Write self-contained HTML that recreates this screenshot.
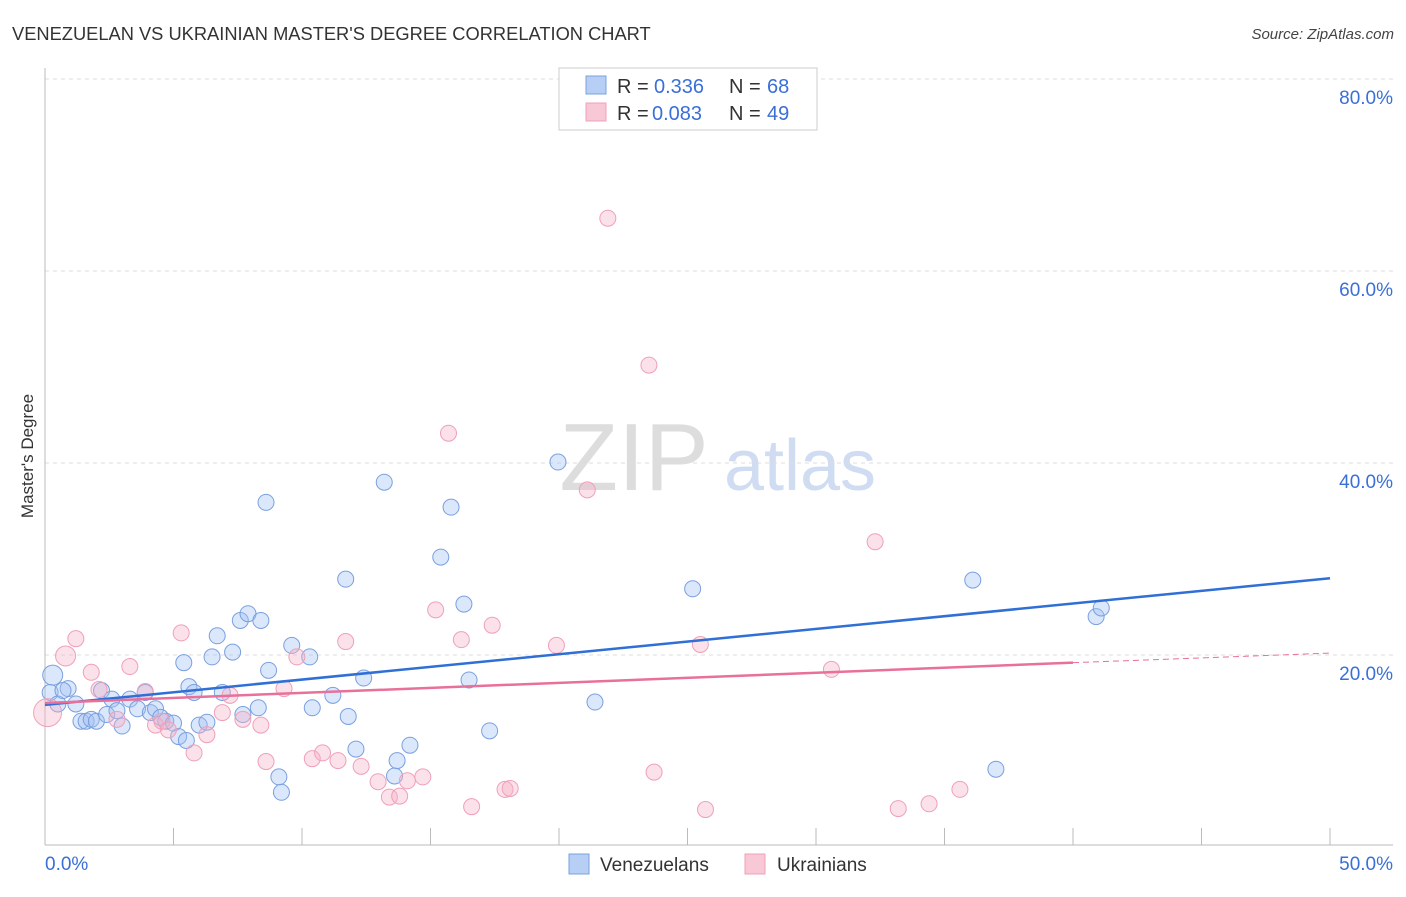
<!DOCTYPE html>
<html><head><meta charset="utf-8"><style>
body{margin:0;background:#fff;font-family:"Liberation Sans",sans-serif;}
svg text{font-family:"Liberation Sans",sans-serif;}
</style></head><body>
<svg id="chart" width="1406" height="892" xmlns="http://www.w3.org/2000/svg">
<text x="12" y="40" font-size="18.3" fill="#333">VENEZUELAN VS UKRAINIAN MASTER'S DEGREE CORRELATION CHART</text>
<text x="1394" y="39" font-size="15" fill="#444" text-anchor="end" font-style="italic">Source: ZipAtlas.com</text>
<g>
<text x="634" y="490" font-size="96" fill="#ddd" text-anchor="middle" font-family="Liberation Serif, serif">ZIP</text>
<text x="800" y="490" font-size="72" fill="#cfdcf2" text-anchor="middle">atlas</text>
</g>
<g id="grid"></g>
<g id="axes"></g>
<g id="points"></g>
<g id="lines"></g>
<text transform="translate(33,456) rotate(-90)" font-size="17" fill="#333" text-anchor="middle">Master's Degree</text>
<g>
<rect x="559" y="68" width="258" height="62" fill="#fff" stroke="#ccc"/>
<rect x="586" y="76" width="20" height="18" fill="#b8cff5" stroke="#7aa0e0"/>
<rect x="586" y="103" width="20" height="18" fill="#f8c8d6" stroke="#f0a0b8"/>
<text x="617" y="93" font-size="20" fill="#333">R = </text><text x="654" y="93" font-size="20" fill="#3a6fd8">0.336</text>
<text x="729" y="93" font-size="20" fill="#333">N = </text><text x="767" y="93" font-size="20" fill="#3a6fd8">68</text>
<text x="617" y="120" font-size="20" fill="#333">R = </text><text x="652" y="120" font-size="20" fill="#3a6fd8">0.083</text>
<text x="729" y="120" font-size="20" fill="#333">N = </text><text x="767" y="120" font-size="20" fill="#3a6fd8">49</text>
</g>
<g>
<rect x="569" y="854" width="20" height="20" fill="#b8cff5" stroke="#7aa0e0"/>
<text x="600" y="871" font-size="19" fill="#333">Venezuelans</text>
<rect x="745" y="854" width="20" height="20" fill="#f8c8d6" stroke="#f0a0b8"/>
<text x="777" y="871" font-size="19" fill="#333">Ukrainians</text>
</g>
</svg>
<script>
const yTicks=[20,40,60,80];
const yTickLabels=["20.0%","40.0%","60.0%","80.0%"];
const xTicks=[0,5,10,15,20,25,30,35,40,45,50];
const xEndLabels=["0.0%","50.0%"];
const venX=[0.3,0.2,0.5,0.9,0.7,1.2,1.4,1.6,1.8,2.0,2.2,2.4,2.6,2.8,3.0,3.3,3.6,3.9,4.1,4.3,4.5,4.7,5.0,5.2,5.4,5.5,5.6,5.8,6.0,6.3,6.5,6.7,6.9,7.3,7.6,7.7,7.9,8.3,8.4,8.6,8.7,9.1,9.2,9.6,10.3,10.4,11.2,11.7,11.8,12.1,12.4,13.2,13.6,13.7,14.2,15.4,15.8,16.3,16.5,17.3,19.96,21.4,25.2,36.1,37.0,40.9,41.1];
const venY=[17.9,16.1,14.9,16.5,16.3,14.9,13.1,13.1,13.3,13.1,16.3,13.8,15.4,14.2,12.6,15.4,14.4,16.1,14.0,14.4,13.5,13.1,12.9,11.5,19.2,11.1,16.7,16.1,12.7,13.0,19.8,22.0,16.1,20.3,23.6,13.8,24.3,14.5,23.6,35.9,18.4,7.3,5.7,21.0,19.8,14.5,15.8,27.9,13.6,10.2,17.6,38.0,7.4,9.0,10.6,30.2,35.4,25.3,17.4,12.1,40.1,15.1,26.9,27.8,8.1,24.0,24.9];
const ukrX=[0.1,0.8,1.2,1.8,2.1,2.8,3.3,3.9,4.3,4.55,4.8,5.3,5.8,6.3,6.9,7.2,7.7,8.4,8.6,9.3,9.8,10.4,10.8,11.4,11.7,12.3,12.96,13.4,13.8,14.1,14.7,15.2,15.7,16.2,16.6,17.4,17.9,18.1,19.9,21.1,21.9,23.5,23.7,25.5,25.7,30.6,32.3,33.2,34.4,35.6];
const ukrY=[14.0,19.9,21.7,18.2,16.4,13.3,18.8,16.2,12.7,13.1,12.2,22.3,9.8,11.7,14.0,15.8,13.3,12.7,8.9,16.5,19.8,9.2,9.8,9.0,21.4,8.4,6.8,5.2,5.3,6.9,7.3,24.7,43.1,21.6,4.2,23.1,6.0,6.1,21.0,37.2,65.5,50.2,7.8,21.1,3.9,18.5,31.8,4.0,4.5,6.0];
const venTrend=[14.8,28.0];
const ukrTrend=[15.0,19.2,20.2];
const X0=45,X1=1330,Y0=847,YS=9.6;
const sx=v=>X0+(X1-X0)*v/50, sy=v=>Y0-v*YS;
const NS="http://www.w3.org/2000/svg";
function mk(tag,attrs,parent){const e=document.createElementNS(NS,tag);for(const k in attrs)e.setAttribute(k,attrs[k]);document.getElementById(parent).appendChild(e);return e;}
yTicks.forEach((t,i)=>{
 const l=mk('line',{x1:45,x2:1393,y1:sy(t),y2:sy(t),stroke:'#ddd','stroke-dasharray':'4,4'},'grid');
 
 
 const tx=mk('text',{x:1393,y:sy(t)+25,'font-size':19,fill:'#3a6fd8','text-anchor':'end'},'grid');
 tx.textContent=yTickLabels[i];
 
 
});
const tg=mk('line',{x1:45,x2:1393,y1:79,y2:79,stroke:'#ddd','stroke-dasharray':'4,4'},'grid');


const ya=mk('line',{x1:45,x2:45,y1:68,y2:845,stroke:'#bbb'},'axes');


const xa=mk('line',{x1:45,x2:1393,y1:845,y2:845,stroke:'#bbb'},'axes');


xTicks.forEach(t=>{
 const l=mk('line',{x1:sx(t),x2:sx(t),y1:828,y2:845,stroke:'#bbb'},'axes');
 
 
});
[[0,'start'],[50,'end']].forEach((p,i)=>{
 const t=mk('text',{x:sx(p[0])+(i?63:0),y:870,'font-size':19,fill:'#3a6fd8','text-anchor':i?'end':'start'},'axes');
 t.textContent=xEndLabels[i];
 
 
});
venX.forEach((x,i)=>{
 const c=mk('circle',{cx:sx(x),cy:sy(venY[i]),r:i==0?10:8,fill:'rgba(160,192,242,0.38)',stroke:'#7aa0e0','stroke-width':1},'points');
 
 
});
ukrX.forEach((x,i)=>{
 const c=mk('circle',{cx:sx(x),cy:sy(ukrY[i]),r:i==0?14:(i==1?10:8),fill:'rgba(245,175,198,0.38)',stroke:'#f0a0b8','stroke-width':1},'points');
 
 
});
const vl=mk('line',{x1:sx(0),y1:sy(venTrend[0]),x2:sx(50),y2:sy(venTrend[1]),stroke:'#2f6fd6','stroke-width':2.5},'lines');


const ul=mk('line',{x1:sx(0),y1:sy(ukrTrend[0]),x2:sx(40),y2:sy(ukrTrend[1]),stroke:'#e8709a','stroke-width':2.5},'lines');


const ud=mk('line',{x1:sx(40),y1:sy(ukrTrend[1]),x2:sx(50),y2:sy(ukrTrend[2]),stroke:'#e8709a','stroke-width':1,'stroke-dasharray':'6,4'},'lines');


</script>
</body></html>
